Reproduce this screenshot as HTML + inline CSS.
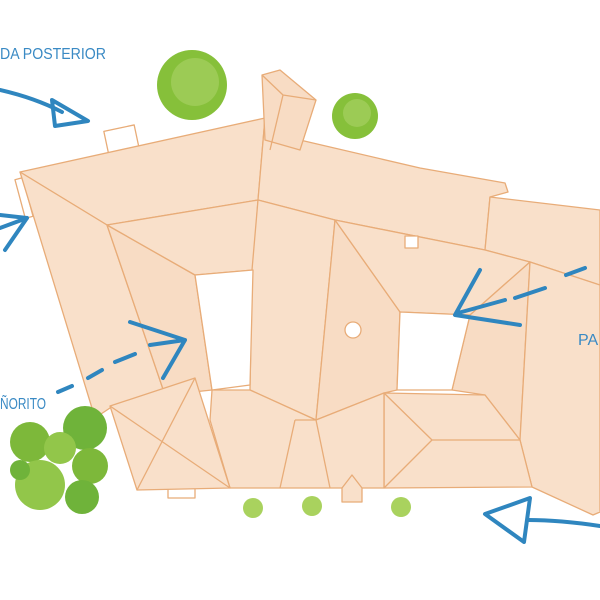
<!DOCTYPE html>
<html><head><meta charset="utf-8"><style>
html,body{margin:0;padding:0;background:#fff;}
svg{display:block}
</style></head><body>
<svg width="600" height="600" viewBox="0 0 600 600" xmlns="http://www.w3.org/2000/svg">
<g stroke="#e8ac78" stroke-width="1.3" stroke-linejoin="round" fill="#f9e0ca">
<rect x="106" y="128" width="31" height="24" fill="#fff" transform="rotate(-12 121 140)"/>
<rect x="20" y="178" width="8" height="40" fill="#fff" transform="rotate(-15 24 198)"/>
<rect x="168" y="488" width="27" height="10" fill="#fff"/>
<polygon points="20,172 265,118 258,200 107,225"/>
<polygon points="20,172 107,225 165,395 110,408 95,418"/>
<polygon points="107,225 195,275 212,390 165,395" fill="#f8dcc4"/>
<polygon points="107,225 258,200 253,270 195,275"/>
<polygon points="265,118 300,140 420,168 505,183 508,192 490,197 485,250 335,220 258,200"/>
<polygon points="490,197 600,210 600,285 530,262 485,250"/>
<polygon points="258,200 335,220 316,420 250,390 252,270"/>
<polygon points="335,220 400,312 397,390 384,393 316,420" fill="#f8dcc4"/>
<polygon points="335,220 485,250 530,262 470,315 400,312"/>
<polygon points="530,262 520,440 485,395 452,390 470,315" fill="#f8dcc4"/>
<polygon points="530,262 600,285 600,512 593,515 532,487 520,440"/>
<polygon points="384,393 485,395 520,440 532,487 384,488"/>
<polygon points="212,390 250,390 316,420 384,393 384,488 230,488 210,420"/>
<polygon points="110,406 195,378 230,488 137,490"/>
<polygon points="262,75 280,70 316,100 300,150 265,140" fill="#f8dcc4"/>
<path d="M262,75 L283,95 L316,100 M283,95 L270,150" fill="none"/>
<path d="M110,406 L230,488 M195,378 L137,490" fill="none"/>
<path d="M384,393 L432,440 L384,488 M432,440 L520,440" fill="none"/>
<path d="M316,420 L330,488 M295,420 L280,488 M295,420 L316,420" fill="none"/>
<polygon points="342,488 352,475 362,488 362,502 342,502"/>
<polygon points="195,275 253,270 250,385 212,390" fill="#fff"/>
<polygon points="400,312 470,315 452,390 397,390" fill="#fff"/>
<rect x="405" y="236" width="13" height="12" fill="#fff"/>
<circle cx="353" cy="330" r="8" fill="#fff"/>
</g>
<g>
<circle cx="192" cy="85" r="35" fill="#86c03a"/><circle cx="195" cy="82" r="24" fill="#9ccb55"/>
<circle cx="355" cy="116" r="23" fill="#86c03a"/><circle cx="357" cy="113" r="14" fill="#9ccb55"/>
<circle cx="30" cy="442" r="20" fill="#7db83a"/>
<circle cx="85" cy="428" r="22" fill="#6fb33a"/>
<circle cx="60" cy="448" r="16" fill="#92c64a"/>
<circle cx="90" cy="466" r="18" fill="#7db83a"/>
<circle cx="40" cy="485" r="25" fill="#92c64a"/>
<circle cx="82" cy="497" r="17" fill="#6fb33a"/>
<circle cx="20" cy="470" r="10" fill="#6fb33a"/>
<circle cx="253" cy="508" r="10" fill="#a9d25e"/>
<circle cx="312" cy="506" r="10" fill="#a9d25e"/>
<circle cx="401" cy="507" r="10" fill="#a9d25e"/>
</g>
<g fill="none" stroke="#2f86bf" stroke-width="4" stroke-linecap="round" stroke-linejoin="round">
<path d="M0,90 Q35,98 62,112"/>
<polygon points="52,100 88,121 55,126"/>
<path d="M0,215 L27,218 L5,250 M0,228 L27,218"/>
<path d="M130,322 L185,340 L163,378 M150,345 L185,340"/>
<path d="M58,392 L72,386 M88,378 L102,370 M115,362 L135,354"/>
<path d="M480,270 L455,315 L520,325 M458,313 L505,300"/>
<path d="M515,298 L545,288 M566,275 L585,268"/>
<polygon points="485,514 530,498 524,542"/>
<path d="M528,520 Q560,520 600,526"/>
</g>
<g font-family="Liberation Sans, sans-serif" fill="#3a8ac4" font-size="16">
<text x="0" y="59" textLength="106" lengthAdjust="spacingAndGlyphs">DA POSTERIOR</text>
<text x="0" y="409" textLength="46" lengthAdjust="spacingAndGlyphs">ÑORITO</text>
<text x="578" y="345">PA</text>
</g>
</svg>
</body></html>
